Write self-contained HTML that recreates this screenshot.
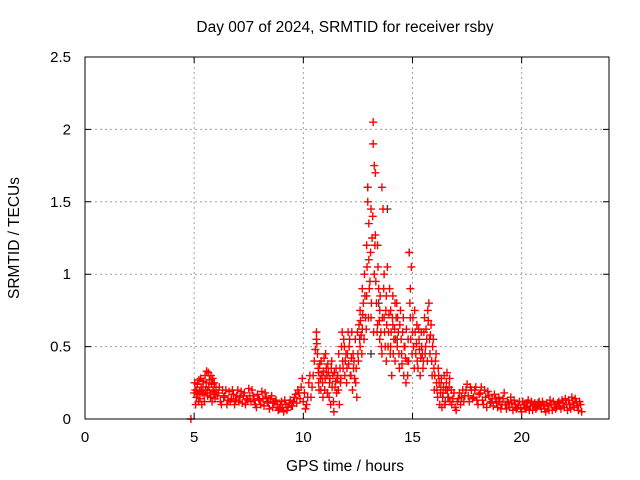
<!DOCTYPE html>
<html><head><meta charset="utf-8"><style>
body{margin:0;background:#fff}
svg{display:block;font-family:"Liberation Sans",sans-serif}
</style></head><body>
<svg id="chart" width="640" height="480">
<rect width="640" height="480" fill="#fff"/>
<text x="345" y="32" font-size="15.5" text-anchor="middle">Day 007 of 2024, SRMTID for receiver rsby</text>
<text x="345" y="471" font-size="15.5" text-anchor="middle">GPS time / hours</text>
<text transform="translate(19,238) rotate(-90)" font-size="15.5" text-anchor="middle">SRMTID / TECUs</text>
<g id="grid"></g><g id="ticks"></g><g id="marks"></g>
<rect x="85" y="57" width="524" height="362" fill="none" stroke="#000"/>
</svg>
<script>
const xTicks=[0,5,10,15,20];
const yTicks=[0,0.5,1,1.5,2,2.5];
const yTickLabels=["0","0.5","1","1.5","2","2.5"];
const hours=[4.85,5.0,5.05,5.1,5.15,5.2,5.25,5.3,5.35,5.4,
5.45,5.5,5.55,5.6,5.65,5.7,5.75,5.8,5.85,5.9,
5.95,6.0,6.1,6.2,6.3,6.4,6.5,6.6,6.7,6.8,
6.9,7.0,7.1,7.2,7.3,7.4,7.5,7.6,7.7,7.8,
7.9,8.0,8.1,8.2,8.3,8.4,8.5,8.6,8.7,8.8,
8.9,9.0,9.1,9.2,9.3,9.4,9.5,9.6,9.7,9.8,
9.9,10.0,10.1,10.2,10.3,10.4,10.5,10.6,10.7,10.8,
10.6,10.65,10.7,10.75,10.85,10.9,10.95,11.0,11.05,11.1,
11.15,11.2,11.25,11.3,11.35,11.4,11.45,11.5,11.55,11.6,
11.65,11.7,11.75,11.8,11.85,11.9,11.95,12.0,12.05,12.1,
12.15,12.2,12.25,12.3,12.35,12.4,12.45,12.5,12.55,12.6,
12.6,12.65,12.7,12.7,12.75,12.8,12.85,12.9,12.9,12.95,
12.95,13.0,13.0,13.05,13.1,13.1,13.15,13.2,13.2,13.25,
13.25,13.3,13.3,13.35,13.4,13.4,13.45,13.5,13.5,13.55,
13.6,13.6,13.65,13.7,13.7,13.75,13.8,13.8,13.85,13.9,
13.95,14.0,14.0,14.05,14.1,14.1,14.15,14.2,14.2,14.25,
14.3,14.35,14.4,14.45,14.5,14.55,14.6,14.65,14.7,14.75,
14.8,14.85,14.9,14.9,14.95,15.0,15.05,15.1,15.15,15.2,
15.25,15.3,15.35,15.4,15.45,15.5,15.55,15.6,15.65,15.7,
15.75,15.8,15.85,15.9,15.95,16.0,16.05,16.1,16.15,16.2,
16.25,16.3,16.35,16.4,16.45,16.5,16.55,16.6,16.65,16.7,
16.8,16.9,17.0,17.1,17.2,17.3,17.4,17.5,17.6,17.7,
17.8,17.9,18.0,18.1,18.2,18.3,18.4,18.5,18.6,18.7,
18.8,18.9,19.0,19.1,19.2,19.3,19.4,19.5,19.6,19.7,
19.8,19.9,20.0,20.1,20.2,20.3,20.4,20.5,20.6,20.7,
20.8,20.9,21.0,21.1,21.2,21.3,21.4,21.5,21.6,21.7,
21.8,21.9,22.0,22.1,22.2,22.3,22.4,22.5,22.6,22.7];
const tecu=[0.0,0.18,0.2,0.15,0.24,0.12,0.19,0.28,0.1,0.22,
0.17,0.3,0.25,0.2,0.32,0.27,0.15,0.24,0.28,0.2,
0.14,0.22,0.18,0.12,0.2,0.16,0.1,0.19,0.14,0.17,
0.13,0.2,0.15,0.11,0.18,0.14,0.21,0.12,0.16,0.1,
0.17,0.13,0.19,0.09,0.15,0.11,0.14,0.08,0.12,0.1,
0.07,0.12,0.05,0.1,0.08,0.13,0.09,0.15,0.11,0.18,
0.22,0.12,0.07,0.15,0.3,0.22,0.4,0.55,0.32,0.2,
0.6,0.45,0.25,0.38,0.3,0.15,0.42,0.28,0.35,0.18,
0.32,0.25,0.1,0.4,0.3,0.05,0.22,0.35,0.28,0.2,
0.1,0.25,0.5,0.4,0.55,0.3,0.45,0.35,0.6,0.5,
0.3,0.42,0.2,0.35,0.28,0.25,0.15,0.45,0.65,0.5,
0.75,0.58,0.9,0.62,0.8,1.0,0.7,1.2,0.85,1.5,
1.6,1.1,1.35,0.95,1.45,0.7,1.25,2.05,1.9,1.75,
1.0,1.7,1.27,0.8,1.2,0.65,0.9,0.55,0.75,0.6,
1.6,0.45,1.45,1.0,0.7,0.5,0.85,0.4,1.05,0.6,
0.9,0.5,0.75,0.3,0.65,0.85,0.55,0.8,0.4,0.7,
0.5,0.6,0.35,0.75,0.45,0.6,0.3,0.5,0.25,0.4,
0.55,1.15,0.7,0.9,1.05,0.6,0.5,0.75,0.45,0.65,
0.35,0.55,0.3,0.6,0.45,0.4,0.7,0.5,0.55,0.75,
0.8,0.45,0.65,0.3,0.55,0.2,0.4,0.25,0.15,0.3,
0.1,0.22,0.08,0.18,0.3,0.12,0.25,0.2,0.15,0.28,
0.1,0.18,0.06,0.14,0.1,0.2,0.16,0.24,0.12,0.2,
0.15,0.22,0.1,0.18,0.13,0.2,0.08,0.16,0.12,0.09,
0.14,0.08,0.12,0.1,0.18,0.07,0.11,0.15,0.06,0.1,
0.08,0.12,0.05,0.1,0.07,0.13,0.09,0.06,0.11,0.08,
0.12,0.07,0.1,0.05,0.09,0.13,0.06,0.1,0.08,0.12,
0.07,0.11,0.14,0.06,0.1,0.15,0.08,0.12,0.06,0.1];
const hoursB=[5.02,5.07,5.12,5.17,5.22,5.27,5.32,5.37,5.42,5.47,
5.52,5.57,5.62,5.67,5.72,5.77,5.82,5.87,5.92,5.97,
6.05,6.15,6.25,6.35,6.45,6.55,6.65,6.75,6.85,6.95,
7.05,7.15,7.25,7.35,7.45,7.55,7.65,7.75,7.85,7.95,
8.05,8.15,8.25,8.35,8.45,8.55,8.65,8.75,8.85,8.95,
9.05,9.15,9.25,9.35,9.45,9.55,9.65,9.75,9.85,9.95,
10.05,10.15,10.25,10.35,10.45,10.55,10.62,10.68,10.72,10.78,
10.82,10.88,10.92,10.98,11.02,11.08,11.12,11.18,11.22,11.28,
11.32,11.38,11.42,11.48,11.52,11.58,11.62,11.68,11.72,11.78,
11.82,11.88,11.92,11.98,12.02,12.08,12.12,12.18,12.22,12.28,
12.32,12.38,12.42,12.48,12.52,12.58,12.62,12.68,12.72,12.78,
12.82,12.88,12.92,12.98,13.02,13.08,13.12,13.18,13.22,13.28,
13.32,13.38,13.42,13.48,13.52,13.58,13.62,13.68,13.72,13.78,
13.82,13.88,13.92,13.98,14.02,14.08,14.12,14.18,14.22,14.28,
14.32,14.38,14.42,14.48,14.52,14.58,14.62,14.68,14.72,14.78,
14.82,14.88,14.92,14.98,15.02,15.08,15.12,15.18,15.22,15.28,
15.32,15.38,15.42,15.48,15.52,15.58,15.62,15.68,15.72,15.78,
15.82,15.88,15.92,15.98,16.02,16.08,16.12,16.18,16.22,16.28,
16.32,16.38,16.42,16.48,16.52,16.58,16.62,16.68,16.72,16.78,
16.85,16.95,17.05,17.15,17.25,17.35,17.45,17.55,17.65,17.75,
17.85,17.95,18.05,18.15,18.25,18.35,18.45,18.55,18.65,18.75,
18.85,18.95,19.05,19.15,19.25,19.35,19.45,19.55,19.65,19.75,
19.85,19.95,20.05,20.15,20.25,20.35,20.45,20.55,20.65,20.75,
20.85,20.95,21.05,21.15,21.25,21.35,21.45,21.55,21.65,21.75,
21.85,21.95,22.05,22.15,22.25,22.35,22.45,22.55,22.65,22.75];
const tecuB=[0.25,0.1,0.2,0.17,0.27,0.14,0.22,0.18,0.26,0.12,
0.2,0.33,0.16,0.22,0.18,0.3,0.12,0.19,0.25,0.17,
0.16,0.22,0.1,0.15,0.2,0.13,0.12,0.2,0.1,0.16,
0.12,0.19,0.16,0.1,0.13,0.16,0.2,0.13,0.08,0.14,
0.1,0.14,0.18,0.12,0.07,0.16,0.11,0.13,0.06,0.1,
0.08,0.13,0.06,0.11,0.09,0.12,0.17,0.2,0.14,0.28,
0.18,0.1,0.25,0.15,0.3,0.48,0.52,0.35,0.2,0.28,
0.4,0.25,0.33,0.2,0.45,0.3,0.38,0.15,0.28,0.35,
0.22,0.12,0.32,0.26,0.18,0.3,0.45,0.35,0.28,0.6,
0.35,0.5,0.4,0.25,0.45,0.38,0.55,0.3,0.6,0.45,
0.4,0.55,0.35,0.6,0.4,0.55,0.68,0.45,0.72,0.55,
0.85,0.62,1.05,0.7,0.9,1.15,0.8,1.4,0.6,1.2,
0.95,0.6,1.05,0.68,0.85,0.5,0.7,0.9,0.6,0.75,
0.65,0.5,0.72,0.45,0.6,0.7,0.45,0.62,0.55,0.8,
0.7,0.45,0.65,0.55,0.38,0.7,0.5,0.42,0.62,0.3,
0.4,0.8,0.55,0.45,0.7,0.35,0.6,0.52,0.4,0.62,
0.48,0.42,0.5,0.35,0.6,0.45,0.62,0.4,0.68,0.55,
0.58,0.4,0.5,0.35,0.3,0.45,0.2,0.35,0.25,0.18,
0.28,0.15,0.22,0.1,0.2,0.32,0.15,0.22,0.12,0.2,
0.14,0.08,0.12,0.18,0.15,0.12,0.2,0.16,0.22,0.14,
0.2,0.13,0.17,0.22,0.1,0.15,0.19,0.11,0.14,0.17,
0.11,0.15,0.07,0.14,0.1,0.12,0.08,0.11,0.13,0.07,
0.1,0.07,0.12,0.08,0.11,0.06,0.12,0.1,0.07,0.11,
0.09,0.12,0.07,0.11,0.06,0.1,0.12,0.07,0.11,0.09,
0.13,0.08,0.1,0.13,0.07,0.11,0.14,0.09,0.12,0.05];
const grayHours=[12.95,13.45,14.85,13.85,13.1,14.3];
const grayTecu=[1.6,0.8,1.15,1.45,0.45,0.55];

const NS="http://www.w3.org/2000/svg";
const X0=85,X1=609,Y0=419,Y1=57,XMAX=24,YMAX=2.5;
function xs(v){return X0+(X1-X0)*v/XMAX;}
function ys(v){return Y0-(Y0-Y1)*v/YMAX;}
function mk(tag,attrs,parent){const e=document.createElementNS(NS,tag);for(const k in attrs)e.setAttribute(k,attrs[k]);parent.appendChild(e);return e;}
const grid=document.getElementById('grid'),ticks=document.getElementById('ticks'),marks=document.getElementById('marks');
xTicks.forEach(t=>{
  const x=xs(t);
  if(t>0){const g=mk('line',{x1:x,x2:x,y1:Y1,y2:Y0,stroke:'#a0a0a0','stroke-dasharray':'2,3'},grid);
  
  }
  const tk=mk('path',{d:`M${x},${Y0}v-6M${x},${Y1}v6`,stroke:'#000'},ticks);
  
  
  const l=mk('text',{x:x,y:Y0+23,'font-size':15,'text-anchor':'middle'},ticks);
  l.textContent=t;
  
  
});
yTicks.forEach((t,i)=>{
  const y=ys(t);
  if(t>0&&t<YMAX){const g=mk('line',{x1:X0,x2:X1,y1:y,y2:y,stroke:'#a0a0a0','stroke-dasharray':'2,3'},grid);
  
  }
  const tk=mk('path',{d:`M${X0},${y}h6M${X1},${y}h-6`,stroke:'#000'},ticks);
  
  
  const l=mk('text',{x:X0-14,y:y+5,'font-size':15,'text-anchor':'end'},ticks);
  l.textContent=yTickLabels[i];
  
  
});
function plus(h,v,color){
  const x=xs(h),y=ys(v);
  return mk('path',{d:`M${x-4},${y}h8M${x},${y-4}v8`,stroke:color,'stroke-width':1.4},marks);
}
grayHours.forEach((h,i)=>{
  const p=plus(h,grayTecu[i],'#404040');
  
  
});
hours.forEach((h,i)=>{
  const p=plus(h,tecu[i],'#ff0000');
  
  
});
hoursB.forEach((h,i)=>{
  const p=plus(h,tecuB[i],'#ff0000');
  
  
});
</script>
</body></html>
